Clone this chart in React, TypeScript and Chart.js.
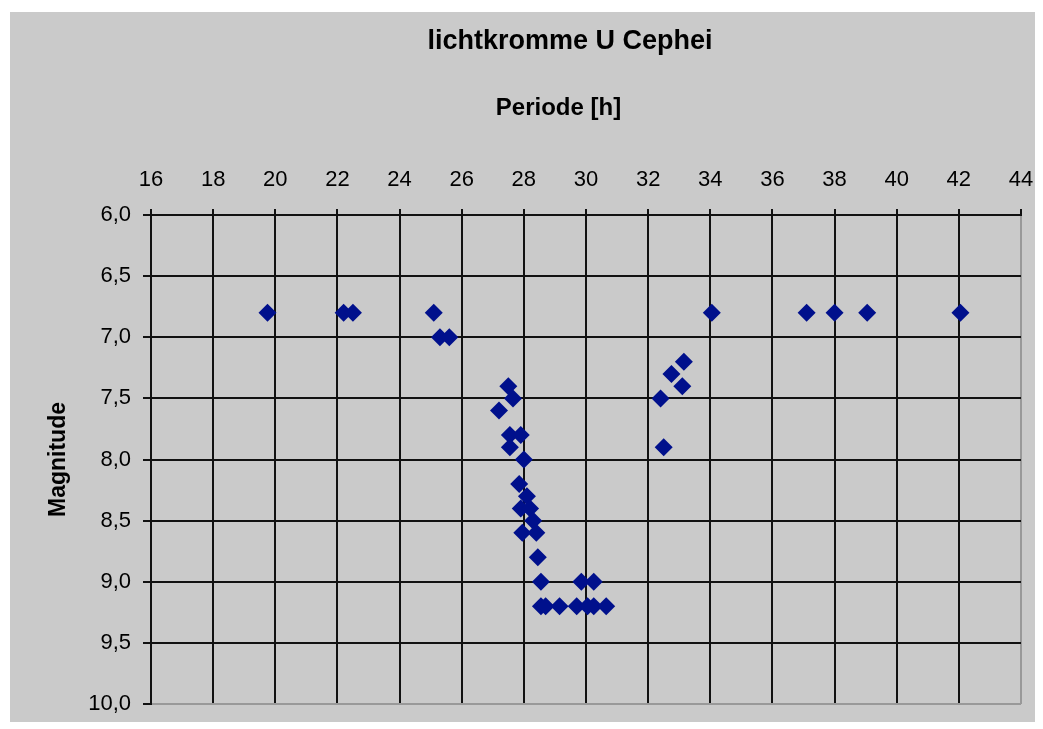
import React, { useEffect, useRef } from "react";
import { Chart, registerables } from "chart.js";

Chart.register(...registerables);

// Data
const periods: number[] = [
  19.75, 22.2, 22.5, 25.1, 25.3, 25.6,
  27.5, 27.65, 27.2, 27.55, 27.9, 27.55, 28.0, 27.85, 28.1, 27.9, 28.2, 28.3, 27.95, 28.4, 28.45,
  28.55, 29.85, 30.25,
  28.55, 28.7, 29.15, 29.7, 30.05, 30.25, 30.65,
  32.4, 32.5, 32.75, 33.1, 33.15, 34.05, 37.1, 38.0, 39.05, 42.05,
];
const magnitudes: number[] = [
  6.8, 6.8, 6.8, 6.8, 7.0, 7.0,
  7.4, 7.5, 7.6, 7.8, 7.8, 7.9, 8.0, 8.2, 8.3, 8.4, 8.4, 8.5, 8.6, 8.6, 8.8,
  9.0, 9.0, 9.0,
  9.2, 9.2, 9.2, 9.2, 9.2, 9.2, 9.2,
  7.5, 7.9, 7.3, 7.4, 7.2, 6.8, 6.8, 6.8, 6.8, 6.8,
];
const xTickValues: number[] = [16, 18, 20, 22, 24, 26, 28, 30, 32, 34, 36, 38, 40, 42, 44];
const yTickValues: number[] = [6.0, 6.5, 7.0, 7.5, 8.0, 8.5, 9.0, 9.5, 10.0];

const chartTitle = "lichtkromme U Cephei";
const xTitle = "Periode [h]";
const yTitle = "Magnitude";

const FONT = "'Liberation Sans', Arial, sans-serif";

const titlesPlugin = {
  id: "excelTitles",
  afterDraw(chart: any) {
    const ctx = chart.ctx as CanvasRenderingContext2D;
    ctx.save();
    ctx.fillStyle = "#000";
    ctx.textAlign = "center";
    ctx.textBaseline = "middle";
    ctx.font = `bold 27px ${FONT}`;
    ctx.fillText(chartTitle, 560, 30);
    ctx.font = `bold 24px ${FONT}`;
    ctx.fillText(xTitle, 548.5, 96);
    ctx.translate(48.5, 447.5);
    ctx.rotate(-Math.PI / 2);
    ctx.font = `bold 23px ${FONT}`;
    ctx.fillText(yTitle, 0, 0);
    ctx.restore();
  },
};

const zeroPadding = (axis: any) => {
  axis.paddingLeft = 0;
  axis.paddingRight = 0;
  axis.paddingTop = 0;
  axis.paddingBottom = 0;
};

export default function App() {
  const canvasRef = useRef<HTMLCanvasElement | null>(null);

  useEffect(() => {
    document.body.style.margin = "0";
    const canvas = canvasRef.current;
    if (!canvas) return;
    const chart = new Chart(canvas, {
      type: "scatter",
      data: {
        datasets: [
          {
            data: periods.map((x, i) => ({ x, y: magnitudes[i] })),
            pointStyle: "rectRot",
            pointRadius: 9,
            pointHoverRadius: 9,
            backgroundColor: "#00108C",
            borderColor: "#00108C",
            borderWidth: 0,
          },
        ],
      },
      options: {
        animation: false,
        responsive: false,
        events: [],
        layout: { padding: { left: 0, right: 14, top: 0, bottom: 18 } },
        plugins: {
          legend: { display: false },
          tooltip: { enabled: false },
          title: { display: false },
        },
        scales: {
          x: {
            type: "linear",
            position: "top",
            min: 16,
            max: 44,
            afterBuildTicks: (axis: any) => {
              axis.ticks = xTickValues.map((v) => ({ value: v }));
            },
            afterFit: (axis: any) => {
              axis.height = 203;
              zeroPadding(axis);
            },
            ticks: {
              color: "#000",
              font: { family: FONT, size: 22 },
              padding: 16,
              maxRotation: 0,
              callback: (v: any) => String(v),
            },
            grid: {
              color: (ctx: any) => (ctx.tick && ctx.tick.value === 44 ? "#999" : "#111"),
              lineWidth: 2,
              tickLength: 6,
              tickColor: "#111",
              drawTicks: true,
            },
            border: { color: "#111", width: 2 },
            title: { display: false },
          },
          y: {
            type: "linear",
            reverse: true,
            min: 6,
            max: 10,
            afterBuildTicks: (axis: any) => {
              axis.ticks = yTickValues.map((v) => ({ value: v }));
            },
            afterFit: (axis: any) => {
              axis.width = 141;
              zeroPadding(axis);
            },
            ticks: {
              color: "#000",
              font: { family: FONT, size: 22 },
              padding: 12,
              callback: (v: any) => Number(v).toFixed(1).replace(".", ","),
            },
            grid: {
              color: (ctx: any) => (ctx.tick && ctx.tick.value === 10 ? "#999" : "#111"),
              lineWidth: 2,
              tickLength: 8,
              tickColor: "#111",
              drawTicks: true,
            },
            border: { color: "#111", width: 2 },
            title: { display: false },
          },
        },
      },
      plugins: [titlesPlugin],
    } as any);
    return () => chart.destroy();
  }, []);

  return (
    <div style={{ position: "relative", width: 1043, height: 729, background: "#fff", overflow: "hidden" }}>
      <div style={{ position: "absolute", left: 10, top: 12, width: 1025, height: 710, background: "#CACACA" }}>
        <canvas ref={canvasRef} width={1025} height={710} style={{ display: "block", width: 1025, height: 710 }} />
      </div>
    </div>
  );
}
